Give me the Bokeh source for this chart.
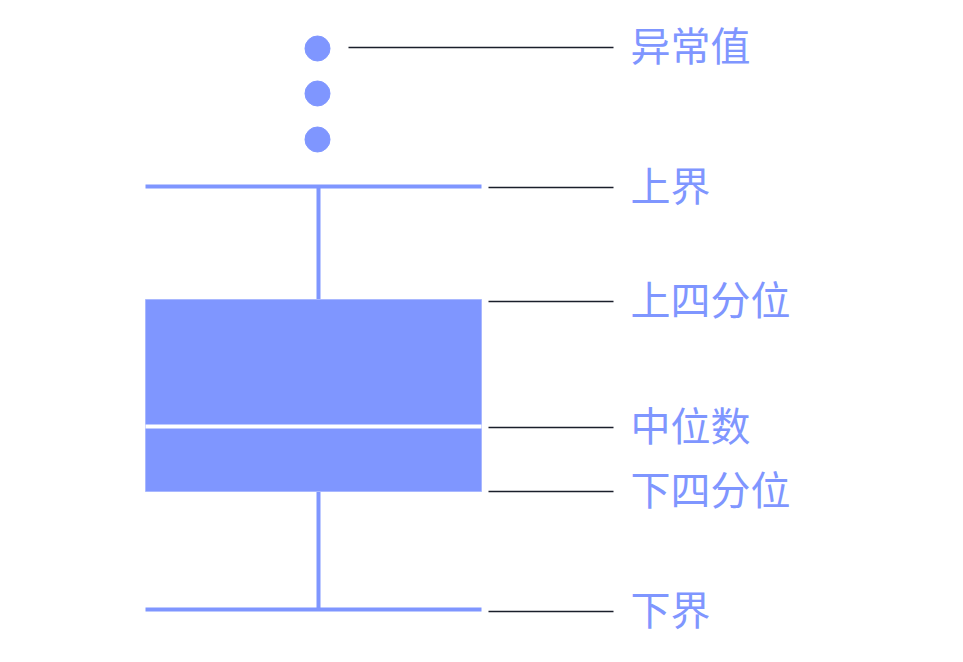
from bokeh.plotting import figure
from bokeh.models import Range1d
from bokeh.embed import file_html
from bokeh.resources import INLINE
from bokeh.core.properties import value

# Box-plot statistics (value units)
lower_whisker = 53
q1 = 171
median = 236
q3 = 363
upper_whisker = 476
outliers = [523, 569, 614]

# Annotation labels and the value each one points at
labels = ["异常值", "上界", "上四分位", "中位数", "下四分位", "下界"]
label_values = [615, 475, 361, 235, 171, 51]

W, H = 963, 662
COLOR = "#7f96ff"

p = figure(width=W, height=H, output_backend="svg", toolbar_location=None,
           x_range=Range1d(0, W), y_range=Range1d(0, H),
           min_border=0, outline_line_color=None)
p.axis.visible = False
p.grid.visible = False
p.background_fill_color = "white"
p.border_fill_color = "white"

box_left, box_right, center = 145, 481, 318

# whiskers
p.segment(x0=[center, center], y0=[upper_whisker, lower_whisker],
          x1=[center, center], y1=[q3, q1], line_color=COLOR, line_width=4)
p.segment(x0=[box_left, box_left], y0=[upper_whisker, lower_whisker],
          x1=[box_right, box_right], y1=[upper_whisker, lower_whisker],
          line_color=COLOR, line_width=4)
# box
p.quad(left=[box_left], right=[box_right], bottom=[q1], top=[q3],
       fill_color=COLOR, line_color="#a9b8ff", line_width=1)
# median
p.segment(x0=[box_left], y0=[median], x1=[box_right], y1=[median],
          line_color="white", line_width=4)
# outliers
p.scatter(x=[center - 1] * len(outliers), y=outliers, size=25,
          fill_color=COLOR, line_color=COLOR)

# connector lines
x0s = [348] + [488] * (len(labels) - 1)
p.segment(x0=x0s, y0=label_values, x1=[613] * len(labels), y1=label_values,
          line_color="#1a1f2b", line_width=1.4)
p.text(x=[630] * len(labels), y=label_values, text=labels,
       text_font=value("Noto Sans CJK SC"), text_font_size="40px",
       text_color=COLOR, text_baseline="middle", text_align="left",
       y_offset=-4)

open("out.html", "w").write(file_html(p, INLINE))
